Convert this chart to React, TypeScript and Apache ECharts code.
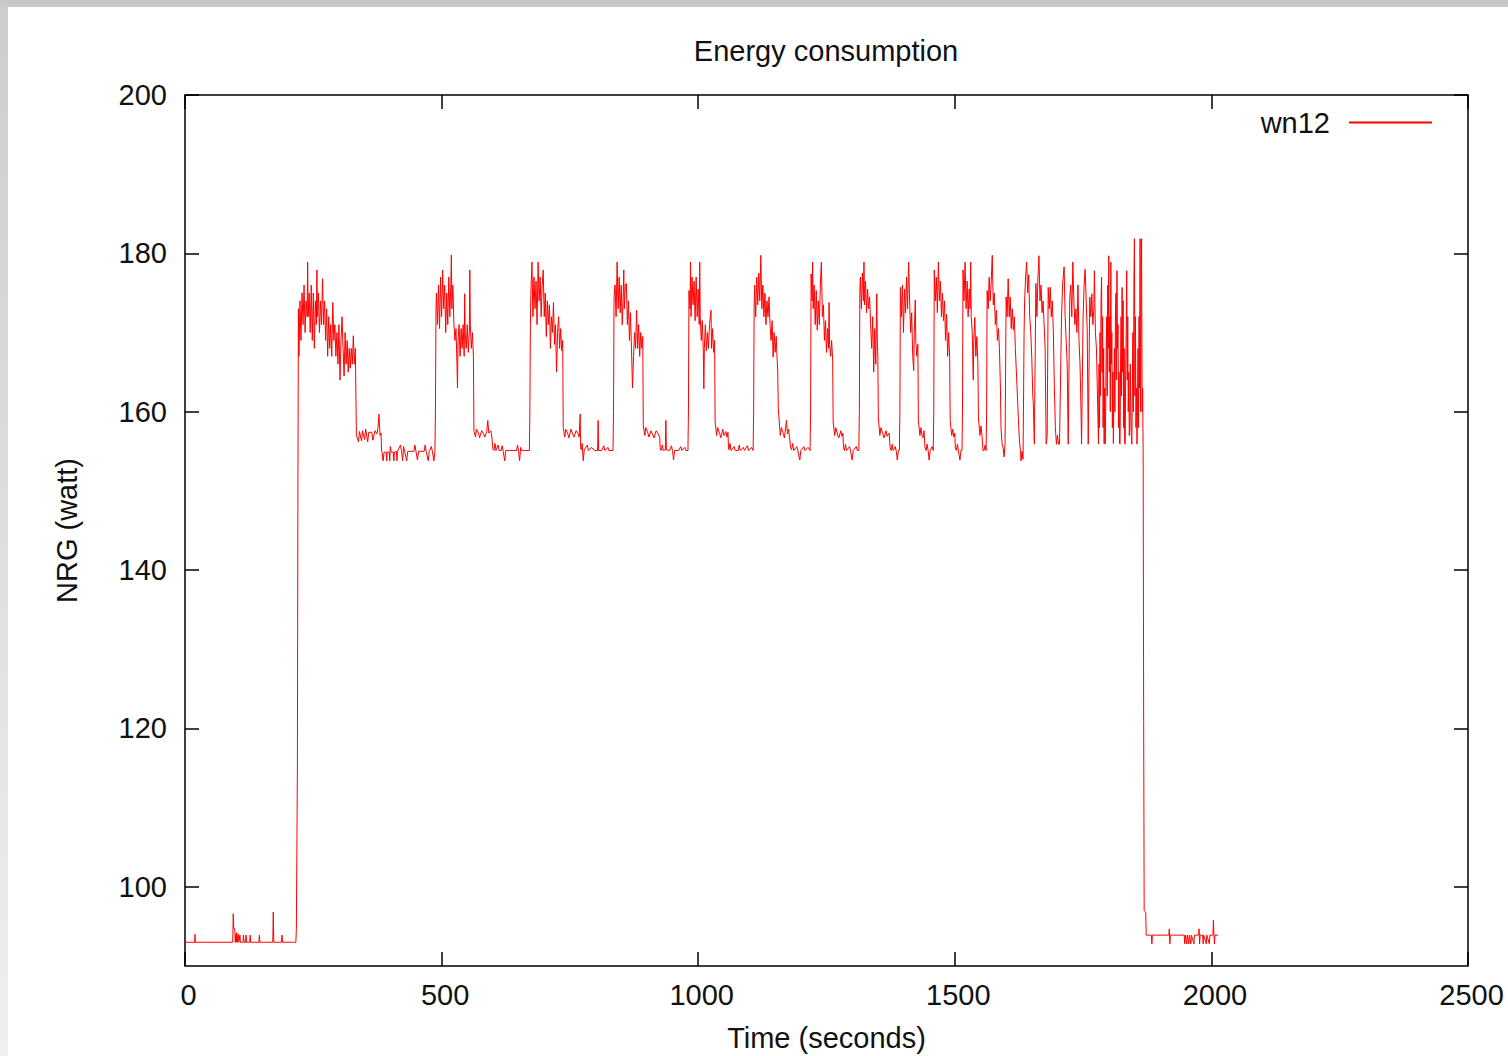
import React, { useEffect, useRef } from "react";
import * as echarts from "echarts";

type P = [number, number];

const xTicks = [0, 500, 1000, 1500, 2000, 2500];
const yTicks = [100, 120, 140, 160, 180, 200];
const seriesName = "wn12";

const idleStart: P[] = [[0,93],[19,93],[19.5,94],[20,93],[93,93],[94,96.6],[95,94.7],[97,94.7],[98,93],[99,94],[100,93],[101,94.2],[102,93],[104,94],[105,93],[107,93.9],[108,93],[113,93],[114,93.9],[115,93],[118,93],[119,93.9],[120,93],[126,93],[127,93.9],[128,93],[144,93],[145,93.9],[146,93],[171,93],[172,96.8],[173,93],[188,93],[189,93.9],[190,93],[216,93],[217,94.7],[218,94.7],[219,115],[220,150]];

const cycle1: P[] = [[221,173],[222,167],[224,174],[226,169],[228,175],[230,171],[232,176],[234,170],[236,174],[238,172],[239,178.9],[240,172],[242,175],[244,170],[246,176],[248,169],[250,175],[252,168],[254,174],[256,171],[257,177.9],[258,172],[260,175],[262,170],[264,174],[266,171],[268,176.8],[270,171],[272,174],[274,169],[276,173],[278,167],[280,172],[282,168],[284,171],[286,167],[288,173.8],[290,169],[292,171],[294,167],[296,170],[298,166],[300,171],[302,164],[304,169],[306,172],[308,168],[310,164.5],[312,170],[314,166],[316,169],[318,165],[320,168],[322,165.5],[324,168],[326,166],[328,169.6],[330,166],[332,168],[333,162]];
const low1: P[] = [[334,157],[338,156.2],[340,157.5],[344,156.3],[346,157.6],[350,156.5],[352,157.8],[356,156.2],[358,157.4],[364,157.4],[366,156.4],[370,157.6],[374,157.2],[376,158],[378,159.7],[380,157],[382,157.3],[383,155],[384,154.9],[386,153.8],[388,154.9],[392,154.9],[393,153.8],[394,154.9],[398,154.9],[399,153.8],[400,155.6],[402,154.9],[406,154.9],[407,153.8],[408,154.9],[412,155],[413,153.8],[414,155],[420,155.8],[422,155],[424,153.8],[426,155.6],[428,155],[432,153.8],[434,155],[446,155],[448,155.8],[450,155],[453,153.9],[455,155],[466,155],[468,155.8],[470,155],[474,153.8],[476,155],[480,155.6],[482,155],[485,153.8],[487,155]];

const cycle2: P[] = [[488,160],[489,172.8],[490,175],[492,171],[494,176],[496,170.5],[498,177],[500,172],[502,177.9],[504,173],[506,176],[508,170],[510,175],[512,171],[514,177],[516,172],[518,176],[519,179.8],[520,173],[522,176],[524,171],[526,169],[528,170.5],[530,166],[531,163],[532,169],[534,171],[536,167],[538,170.5],[540,168],[542,171],[544,167],[545,174.9],[546,170],[548,168],[550,171],[552,167.5],[554,170],[555,177.9],[556,171],[558,168],[560,170],[562,167]];
const low2: P[] = [[563,157.6],[566,156.8],[568,157.8],[572,157.3],[574,156.7],[578,157.6],[582,157.2],[584,156.8],[588,157.5],[590,158.9],[592,157.3],[596,157.6],[598,156.8],[600,155.3],[602,155.1],[604,156],[606,155.1],[610,155.8],[612,155.1],[616,155.1],[618,155.7],[620,155],[623,153.8],[625,155.1],[632,155.1],[640,155.1],[646,155.1],[648,155.8],[650,155],[652,153.8],[654,155.5],[656,155.1],[660,155.1],[664,155.1],[671,155.1]];

const cycle3: P[] = [[672,160],[673,171],[674,175],[676,178.9],[678,172],[680,177],[682,173],[684,176.5],[686,171],[688,178.9],[690,174],[692,177],[694,172],[696,176],[698,177.9],[700,172],[702,175],[704,169.5],[706,174],[708,171],[710,173.5],[712,168],[714,172],[716,170],[718,173.8],[720,168.5],[722,171],[724,165],[726,170],[728,172],[730,168],[732,170.5],[734,167.7],[736,169]];
const low3: P[] = [[737,158],[740,156.8],[742,157.8],[746,157.2],[748,156.7],[752,157.8],[756,157.1],[758,156.8],[762,157.6],[766,157.2],[768,156.8],[770,159.7],[771,155.5],[772,155.2],[774,156],[776,153.8],[778,155.2],[784,155.8],[786,155.1],[792,155.5],[798,155.1],[804,155.1],[805,158.9],[806,155.1],[812,155.1],[816,155.7],[818,155.1],[824,155.5],[826,155.1],[834,155.1]];

const cycle4: P[] = [[835,160],[836,174.5],[838,176],[840,172],[842,178.9],[844,173],[846,177],[848,172.5],[850,176],[852,171],[854,175],[855,177.9],[856,173],[858,176],[860,176.2],[862,171],[864,174],[866,169],[868,172.5],[870,168],[872,163],[874,167],[876,170],[878,168],[880,172.8],[882,168],[884,171],[886,167],[888,170],[890,168],[892,169.5]];
const low4: P[] = [[893,158.2],[896,157],[898,158],[902,157.3],[904,156.8],[908,157.6],[912,157],[914,156.7],[918,157.6],[922,157.2],[925,156.8],[926,155.3],[928,155.1],[930,155.8],[932,155.1],[936,155.2],[937,158.9],[938,155.2],[944,155.1],[948,155.7],[950,155],[952,153.9],[954,155.1],[962,155.1],[966,155.6],[968,155.1],[974,155.5],[976,155.1],[980,155.1]];

const cycle5: P[] = [[981,160],[982,175.3],[984,173],[985,178.9],[986,172],[988,177],[990,173.5],[992,176.5],[994,171.5],[996,177],[998,172],[1000,175.5],[1002,171],[1003,178.9],[1004,172],[1006,169],[1008,171.5],[1010,167.5],[1011,162.9],[1012,168],[1014,171],[1016,167.7],[1018,170],[1020,168],[1022,171],[1025,172.8],[1026,168],[1028,170.5],[1030,167.5],[1032,169]];
const low5: P[] = [[1033,158.7],[1036,157],[1038,158],[1042,157.2],[1044,156.7],[1048,157.8],[1050,157],[1054,157.5],[1056,156.8],[1058,157.4],[1059,155.5],[1060,155.2],[1062,156],[1064,155.1],[1070,155.6],[1072,155.1],[1078,155.1],[1080,155.8],[1082,155.1],[1088,155.5],[1090,155.1],[1096,155.7],[1098,155.1],[1104,155.5],[1107,155.1]];

const cycle6: P[] = [[1108,160],[1109,173.2],[1110,176],[1112,172],[1114,177],[1116,173.5],[1118,177.5],[1120,174],[1122,179.75],[1124,173],[1126,176],[1128,172],[1130,175],[1132,171],[1134,174],[1136,172],[1138,174.5],[1140,171],[1142,169],[1144,171.5],[1146,166.9],[1148,170],[1150,167.5],[1152,169.5],[1153,167.7],[1155,165],[1156,160.5]];
const low6: P[] = [[1158,158.7],[1160,157],[1162,158],[1166,157.2],[1168,156.7],[1172,158.9],[1174,157.2],[1176,157.8],[1178,156.8],[1180,155.5],[1182,155.2],[1184,156],[1186,155.1],[1192,155.6],[1194,155.1],[1198,153.9],[1200,155.1],[1206,155.6],[1208,155.1],[1214,155.5],[1218,155.1]];

const cycle7: P[] = [[1219,160],[1220,177.4],[1222,174],[1223,178.9],[1224,173],[1226,176],[1228,171],[1230,175.3],[1232,170.3],[1234,174],[1236,171],[1238,176],[1240,178.9],[1242,172],[1244,173.5],[1246,169],[1248,171.5],[1250,167.5],[1252,170.5],[1254,168],[1255,173.8],[1256,168.5],[1258,167],[1260,169],[1262,166.5]];
const low7: P[] = [[1263,158.7],[1266,157],[1268,158],[1272,157],[1274,156.7],[1278,157.6],[1280,156.9],[1282,157.3],[1283,155.5],[1285,155.1],[1287,155.9],[1289,155.1],[1295,155.6],[1297,155],[1300,153.9],[1302,155.1],[1308,155.6],[1310,155.1],[1313,155.1]];

const cycle8: P[] = [[1314,160],[1315,175.3],[1316,177],[1318,173],[1320,177.5],[1322,174],[1323,178.9],[1324,173.5],[1326,176.5],[1328,172.5],[1330,175.5],[1332,173],[1334,174.5],[1336,171],[1338,168],[1340,172],[1342,165],[1344,170.5],[1346,166],[1348,174.9],[1349,169],[1350,167]];
const low8: P[] = [[1351,159.3],[1354,157],[1356,158],[1360,157.2],[1362,156.7],[1366,157.6],[1368,156.9],[1372,157.3],[1374,155.5],[1376,155.1],[1378,155.9],[1380,155.1],[1384,155.6],[1386,155],[1388,153.9],[1390,155.1],[1392,155.1]];

const cycle9: P[] = [[1393,160],[1394,175.7],[1396,172],[1398,176],[1400,170],[1402,175.5],[1404,172.5],[1406,177],[1408,173],[1410,178.9],[1412,174],[1414,170],[1416,172.5],[1418,167],[1420,165.2],[1421,170],[1423,174.1],[1424,169],[1426,167],[1428,168.5]];
const low9: P[] = [[1429,158.9],[1432,157],[1434,158],[1436,157],[1438,156.7],[1440,157.6],[1442,155.5],[1444,155.1],[1446,155.9],[1448,155.1],[1450,153.9],[1452,155.1],[1456,155.6],[1458,155.1]];

const cycle10: P[] = [[1459,160],[1460,177.9],[1462,174],[1464,177],[1466,172.5],[1468,178.9],[1470,174],[1472,176.5],[1474,172],[1476,175],[1478,171.5],[1480,174],[1482,169],[1484,172.3],[1486,167],[1488,170],[1490,166.9]];
const low10: P[] = [[1491,158.9],[1494,157],[1496,157.8],[1498,156.8],[1500,157.3],[1501,155.5],[1503,155.1],[1505,155.9],[1507,155.1],[1510,153.9],[1512,155.1],[1514,155.1]];

const cycle11: P[] = [[1515,160],[1516,177.9],[1518,174],[1520,178.9],[1522,173],[1524,176.5],[1526,172],[1528,175.5],[1530,173],[1531,178.9],[1532,172],[1534,170],[1536,164],[1537,169],[1539,171.9],[1541,167],[1543,169.5],[1545,166]];
const low11: P[] = [[1546,159.3],[1549,157],[1551,158.2],[1553,157],[1555,155.1],[1557,155.1],[1559,155.8],[1561,155.1]];

const cycle12: P[] = [[1562,160],[1563,175.3],[1565,173],[1567,177],[1569,174],[1571,176.5],[1573,179.75],[1575,173.5],[1577,175],[1579,171],[1581,172.8],[1583,169],[1585,170.5],[1587,168],[1589,162.7],[1590,158],[1592,156],[1594,155.5],[1596,154.3],[1598,156]];

const burstA: P[] = [[1600,174.5],[1602,172],[1604,176.8],[1606,172],[1608,174.5],[1610,170.5],[1612,173],[1614,170.3],[1616,172],[1618,168],[1620,165],[1622,162],[1624,159],[1626,156.3],[1628,155],[1629,153.8],[1631,155],[1633,154],[1635,170],[1636,174],[1638,177],[1640,178.9],[1642,175],[1644,177.3],[1646,172],[1648,170],[1650,166.9],[1652,162],[1653,161],[1655,155.9],[1658,176.2],[1660,172],[1662,177],[1664,179.7],[1666,174],[1668,176],[1670,172.5],[1672,174],[1674,171],[1676,168],[1678,155.9],[1680,157],[1682,175.7],[1684,173],[1686,175.7],[1688,172],[1690,174],[1692,170.3],[1694,163],[1696,158],[1698,155.9],[1700,157],[1702,155.9],[1704,155.9]];

const burstB: P[] = [[1708,172],[1710,176],[1713,178.3],[1715,172],[1717,169],[1719,166],[1721,155.9],[1724,174.5],[1726,176],[1728,172],[1730,178.9],[1732,174],[1734,171],[1736,173],[1738,170],[1740,176],[1742,169],[1744,166],[1746,160],[1747,155.9],[1750,172],[1752,176],[1754,178],[1756,174],[1758,170.3],[1760,155.9],[1763,174.5],[1765,172],[1767,174.9],[1769,171],[1771,173],[1772,177.8],[1774,170],[1776,168],[1778,162]];

const burstC: P[] = [[1780,155.9],[1781,166],[1782,158],[1783,170],[1784,162],[1785,174],[1786,177],[1787,165],[1788,172],[1789,158],[1790,168],[1791,156],[1792,163],[1793,155.9],[1794,160],[1795,168],[1796,172],[1797,162],[1798,176],[1799,168],[1800,179.7],[1801,165],[1802,172],[1803,160],[1804,178.9],[1805,166],[1806,170],[1807,158],[1808,165],[1809,156],[1810,162],[1811,168],[1812,160],[1813,172],[1814,175],[1815,164],[1816,177.8],[1817,168],[1818,171],[1819,158],[1820,165],[1821,156],[1822,155.9],[1823,166],[1824,172],[1825,162],[1826,175.7],[1827,165],[1828,174],[1829,158],[1830,168],[1831,156],[1832,155.9],[1833,165],[1834,170],[1835,177.8],[1836,164],[1837,172],[1838,160],[1839,165],[1840,157],[1841,158],[1842,166],[1843,160],[1844,157],[1845,155.9],[1846,163],[1847,170],[1848,160],[1849,176],[1850,181.85],[1851,162],[1852,172],[1853,158],[1854,163],[1855,155.9],[1856,160],[1857,168],[1858,158],[1859,172],[1860,163],[1861,181.85],[1862,160],[1863,175],[1864,181.85],[1865,160],[1866,163],[1867,155]];

const idleEnd: P[] = [[1868,121],[1869,97],[1872,96.8],[1873,93.9],[1883,93.9],[1884,92.8],[1885,93.9],[1917,93.9],[1918,94.7],[1919,92.8],[1920,93.9],[1947,93.9],[1948,92.8],[1949,93.9],[1952,92.8],[1953,93.9],[1956,92.8],[1957,93.9],[1960,92.8],[1961,93.9],[1966,92.8],[1967,93.9],[1975,93.9],[1976,94.7],[1977,92.8],[1978,93.9],[1983,93.9],[1984,92.8],[1985,93.9],[1990,92.8],[1991,93.9],[1996,92.8],[1997,93.9],[2003,93.9],[2004,95.8],[2005,93.9],[2006,92.8],[2007,93.9],[2013,93.9]];

const FONT = "'Liberation Sans', Arial, Helvetica, sans-serif";
const TXT = "#111";
const FS = 29;

export default function App() {
  const ref = useRef<HTMLDivElement>(null);
  useEffect(() => {
    if (!ref.current) return;
    const chart = echarts.init(ref.current, undefined, { renderer: "svg" });
    const data = [
      ...idleStart, ...cycle1, ...low1, ...cycle2, ...low2, ...cycle3, ...low3,
      ...cycle4, ...low4, ...cycle5, ...low5, ...cycle6, ...low6, ...cycle7, ...low7,
      ...cycle8, ...low8, ...cycle9, ...low9, ...cycle10, ...low10, ...cycle11, ...low11,
      ...cycle12, ...burstA, ...burstB, ...burstC, ...idleEnd,
    ];
    const tickInside = { show: true, inside: true, length: 14, lineStyle: { color: "#000", width: 1.5 } };
    const noLine = { show: false, onZero: false };
    chart.setOption({
      animation: false,
      backgroundColor: "#fff",
      textStyle: { fontFamily: FONT },
      title: {
        text: "Energy consumption",
        left: 821,
        top: 31,
        textAlign: "center",
        textStyle: { fontFamily: FONT, fontSize: FS, fontWeight: "normal", color: TXT },
      },
      legend: {
        data: [seriesName],
        right: 71,
        top: 103,
        align: "right",
        icon: "rect",
        itemWidth: 83,
        itemHeight: 2,
        itemStyle: { color: "#ff0000" },
        textStyle: { fontFamily: FONT, fontSize: FS, color: TXT, padding: [0, 14, 0, 0] },
      },
      grid: {
        left: 185, right: 40, top: 95, bottom: 90,
        outerBoundsMode: "none", containLabel: false,
        show: true, borderColor: "#000", borderWidth: 1.5, backgroundColor: "transparent",
      },
      xAxis: [
        {
          type: "value", min: 0, max: 2500, interval: 500, position: "bottom",
          name: "Time (seconds)", nameLocation: "middle", nameGap: 57,
          nameTextStyle: { fontFamily: FONT, fontSize: FS, color: TXT },
          axisLine: noLine, splitLine: { show: false },
          axisTick: { ...tickInside, customValues: xTicks },
          axisLabel: { customValues: xTicks, formatter: (v: number) => String(v), fontFamily: FONT, fontSize: FS, color: TXT, margin: 14, padding: [0, 0, 0, 7] },
        },
        {
          type: "value", min: 0, max: 2500, interval: 500, position: "top",
          axisLine: noLine, splitLine: { show: false },
          axisTick: { ...tickInside, customValues: xTicks }, axisLabel: { show: false },
        },
      ],
      yAxis: [
        {
          type: "value", min: 90, max: 200, position: "left",
          name: "NRG (watt)", nameLocation: "middle", nameGap: 104,
          nameTextStyle: { fontFamily: FONT, fontSize: FS, color: TXT },
          axisLine: noLine, splitLine: { show: false },
          axisTick: { ...tickInside, customValues: yTicks },
          axisLabel: { customValues: yTicks, formatter: (v: number) => String(v), fontFamily: FONT, fontSize: FS, color: TXT, margin: 18 },
        },
        {
          type: "value", min: 90, max: 200, position: "right",
          axisLine: noLine, splitLine: { show: false },
          axisTick: { ...tickInside, customValues: yTicks }, axisLabel: { show: false },
        },
      ],
      graphic: [
        { type: "rect", silent: true, shape: { x: 0, y: 0, width: 1508, height: 7 }, style: { fill: "#c8c8c8" } },
        {
          type: "rect", silent: true, shape: { x: 0, y: 7, width: 8, height: 1049 },
          style: {
            fill: new echarts.graphic.LinearGradient(0, 0, 0, 1, [
              { offset: 0, color: "#cdcdcd" },
              { offset: 1, color: "#efefef" },
            ]),
          },
        },
      ],
      series: [
        {
          name: seriesName,
          type: "line",
          xAxisIndex: 0,
          yAxisIndex: 0,
          data,
          showSymbol: false,
          symbol: "none",
          lineStyle: { color: "#ff0000", width: 1 },
          itemStyle: { color: "#ff0000" },
        },
      ],
    });
    return () => chart.dispose();
  }, []);
  return <div ref={ref} style={{ position: "absolute", left: 0, top: 0, width: 1508, height: 1056 }} />;
}
